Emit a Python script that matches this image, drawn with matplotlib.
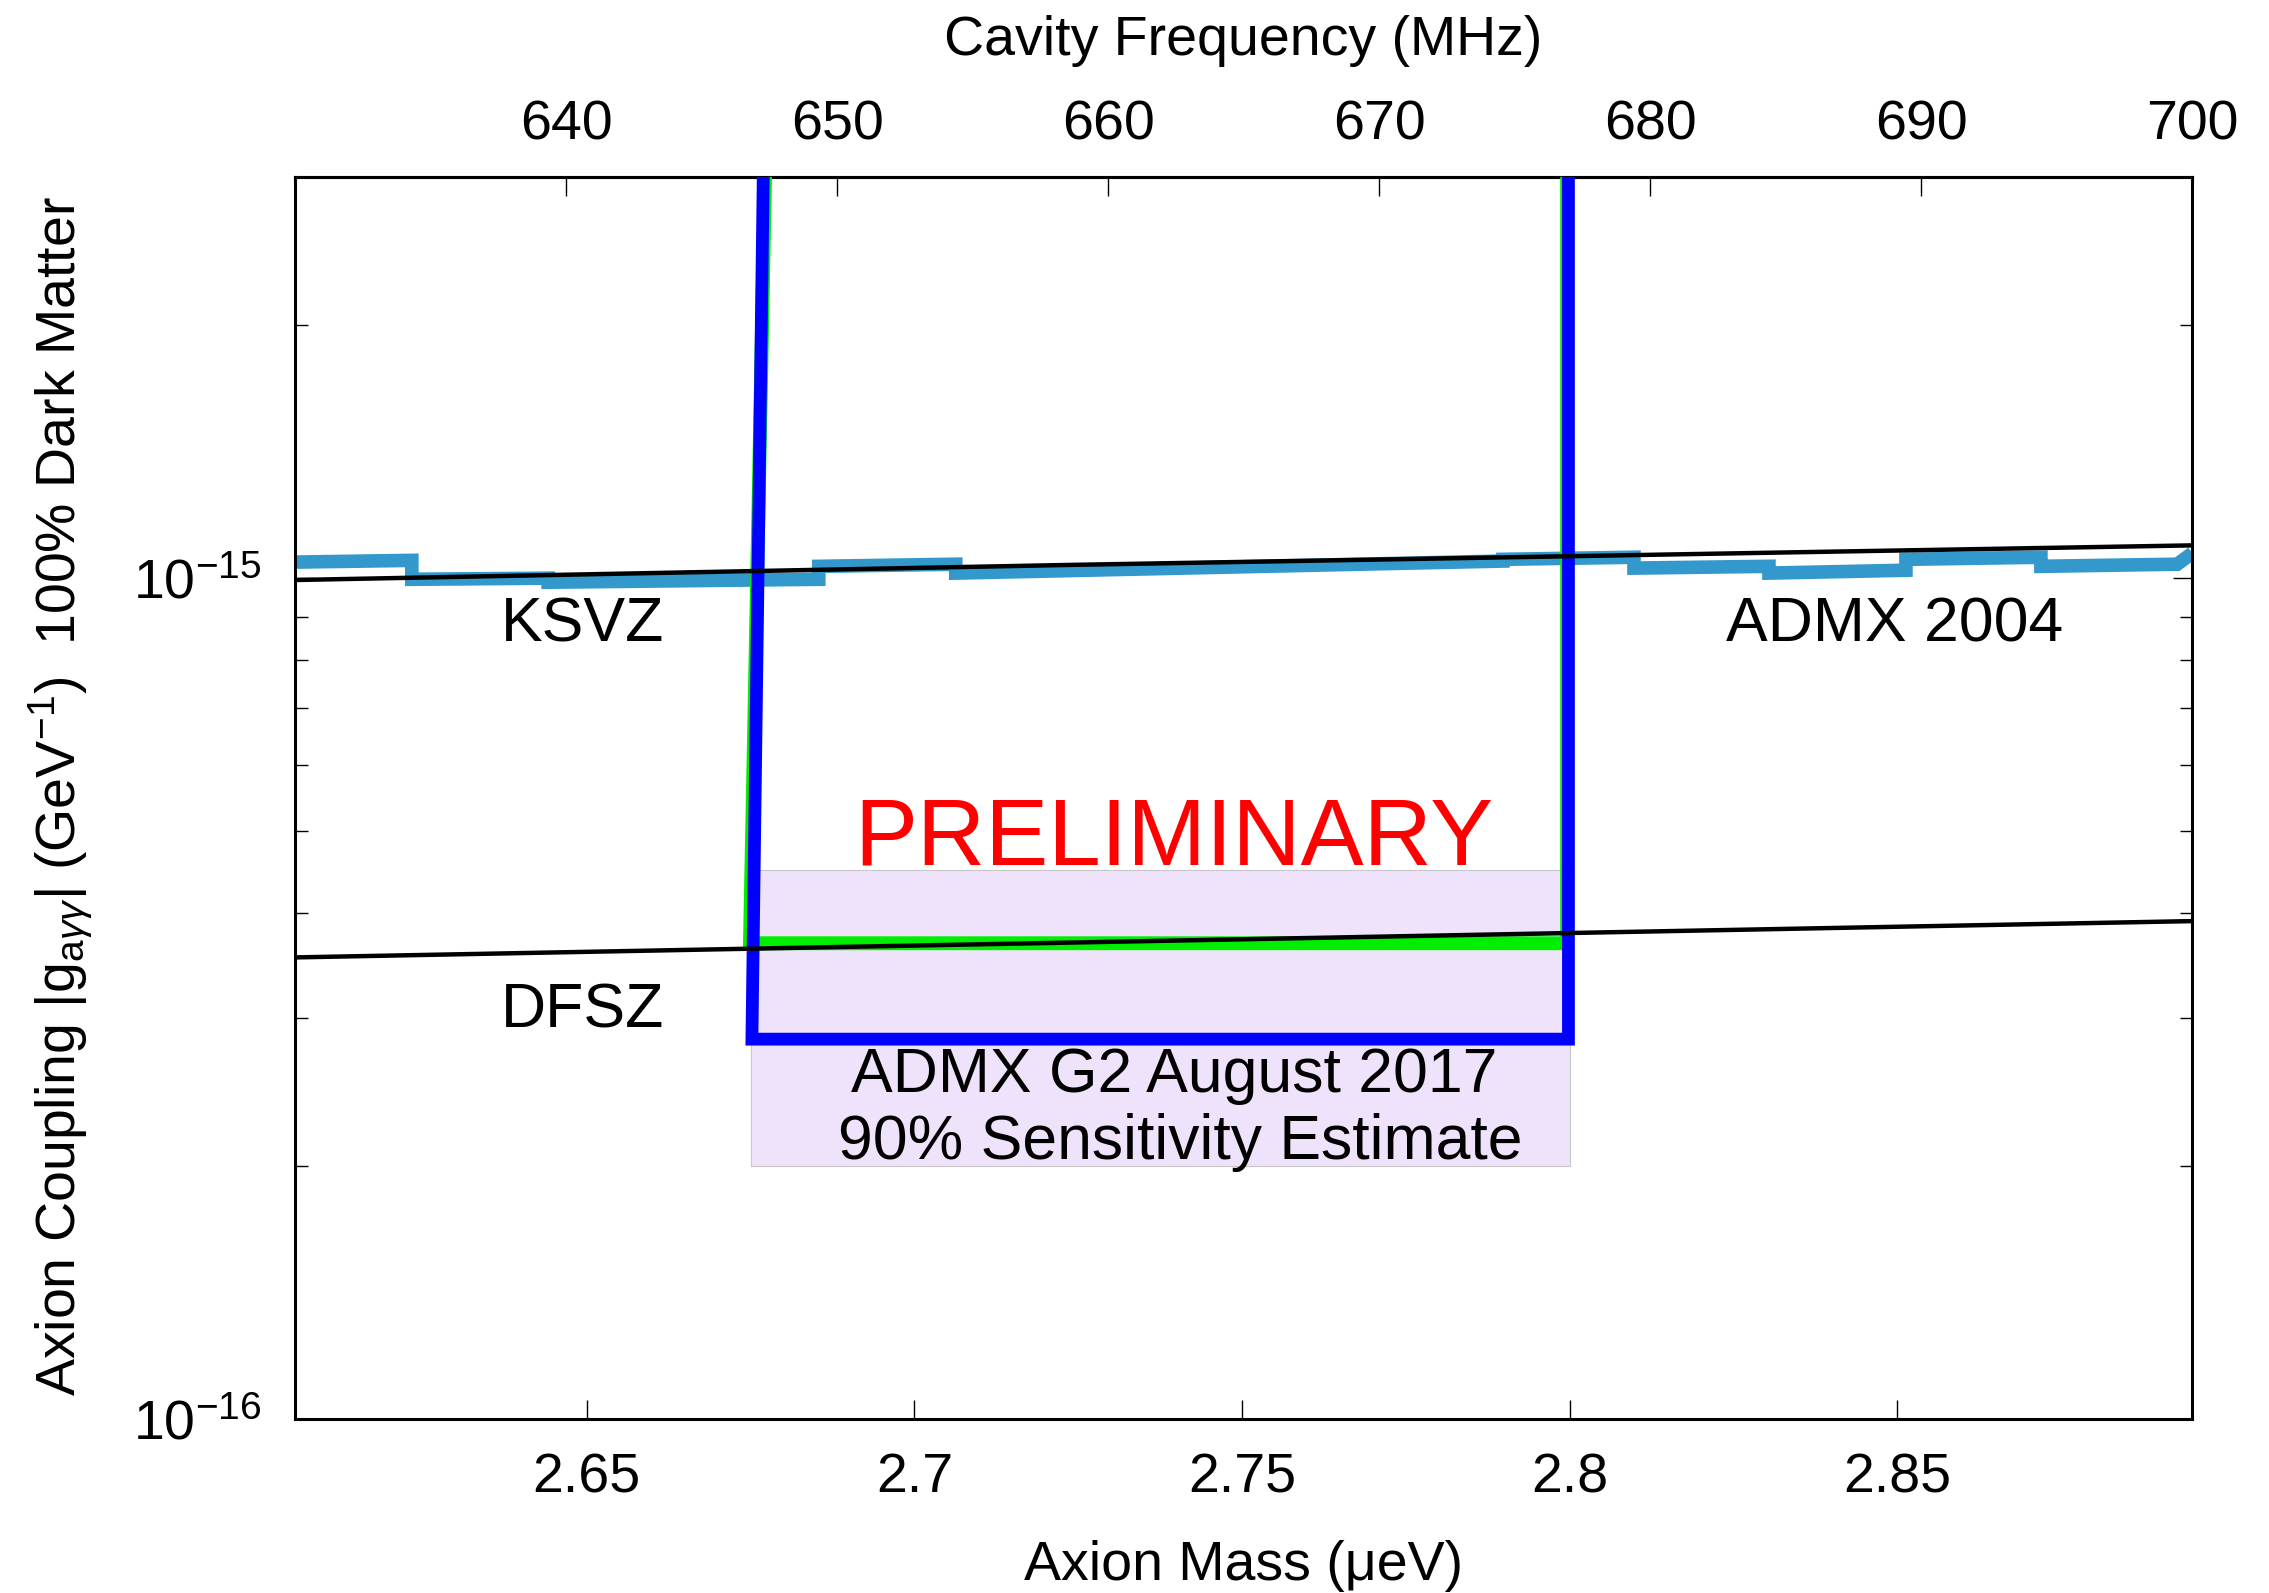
import matplotlib
matplotlib.use("Agg")
import matplotlib.pyplot as plt
from matplotlib.ticker import FixedLocator, FixedFormatter, NullFormatter

plt.rcParams['font.family'] = ['Liberation Sans', 'DejaVu Sans']
plt.rcParams['mathtext.fontset'] = 'custom'
plt.rcParams['mathtext.rm'] = 'Liberation Sans'
plt.rcParams['mathtext.it'] = 'Liberation Sans:italic'
plt.rcParams['mathtext.sf'] = 'Liberation Sans'

# ---------------- data ----------------
MHZ_PER_UEV = 241.799
mass_range = [630 / MHZ_PER_UEV, 700 / MHZ_PER_UEV]
g_range = [1e-16, 3e-15]

ksvz_mass = [2.6055, 2.7238, 2.8950]
ksvz_g = [0.995e-15, 1.037e-15, 1.094e-15]

dfsz_mass = [2.6055, 2.8950]
dfsz_g = [3.54e-16, 3.91e-16]

admx2004_mass = [2.6055, 2.6233, 2.6233, 2.6441, 2.6441, 2.6854, 2.6854, 2.7063,
                 2.7063, 2.7898, 2.7898, 2.8098, 2.8098, 2.8304, 2.8304, 2.8513,
                 2.8513, 2.8719, 2.8719, 2.8927, 2.8950]
admx2004_g = [1.045e-15, 1.050e-15, 0.997e-15, 1.000e-15, 0.989e-15, 0.997e-15,
              1.033e-15, 1.039e-15, 1.014e-15, 1.048e-15, 1.053e-15, 1.059e-15,
              1.028e-15, 1.033e-15, 1.014e-15, 1.022e-15, 1.053e-15, 1.059e-15,
              1.033e-15, 1.039e-15, 1.071e-15]

g2_mass = [2.6770, 2.6752, 2.7998, 2.7998]
g2_g = [3.3e-15, 2.83e-16, 2.83e-16, 3.3e-15]

green_mass = [2.6773, 2.6749, 2.7996, 2.7996]
green_g = [3.3e-15, 3.68e-16, 3.68e-16, 3.3e-15]

band_mass = [2.6751, 2.8001]
band_lo = [2.0e-16, 2.0e-16]
band_hi = [4.50e-16, 4.50e-16]

mass_ticks = [2.65, 2.7, 2.75, 2.8, 2.85]
mass_ticklabels = ['2.65', '2.7', '2.75', '2.8', '2.85']
freq_ticks = [640, 650, 660, 670, 680, 690, 700]
g_major = [1e-16, 1e-15]
g_major_labels = ['10$^{-16}$', '10$^{-15}$']
g_minor = [2e-16, 3e-16, 4e-16, 5e-16, 6e-16, 7e-16, 8e-16, 9e-16, 2e-15]

# ---------------- figure ----------------
fig = plt.figure(figsize=(22.69, 15.93), dpi=100)
ax = fig.add_axes([0.1300, 0.1092, 0.8361, 0.7797])
ax.set_yscale('log')
ax.set_xlim(mass_range)
ax.set_ylim(g_range)

ax.fill_between(band_mass, band_lo, band_hi, facecolor='#efe3fb',
                edgecolor='#c8c8c8', linewidth=0.8, zorder=1)
ax.plot(admx2004_mass, admx2004_g, color='#3399cc', lw=9.8,
        solid_joinstyle='miter', solid_capstyle='butt', zorder=2)
ax.plot(green_mass, green_g, color='#00ee00', lw=10.0,
        solid_joinstyle='miter', zorder=3)
ax.plot(g2_mass, g2_g, color='#0000ff', lw=9.2,
        solid_joinstyle='miter', zorder=4)
ax.plot(ksvz_mass, ksvz_g, color='black', lw=3.2, zorder=5)
ax.plot(dfsz_mass, dfsz_g, color='black', lw=3.2, zorder=5)

tfs = 45
ax.text(2.6494, 0.841e-15, 'KSVZ', fontsize=tfs, ha='center', va='baseline', zorder=6)
ax.text(2.6494, 2.92e-16, 'DFSZ', fontsize=tfs, ha='center', va='baseline', zorder=6)
ax.text(2.8495, 0.841e-15, 'ADMX 2004', fontsize=tfs, ha='center', va='baseline', zorder=6)
ax.text(2.7396, 4.57e-16, 'PRELIMINARY', fontsize=68, color='#ff0000',
        ha='center', va='baseline', zorder=6)
ax.text(2.7396, 2.45e-16, 'ADMX G2 August 2017', fontsize=tfs,
        ha='center', va='baseline', zorder=6)
ax.text(2.7406, 2.04e-16, '90% Sensitivity Estimate', fontsize=tfs,
        ha='center', va='baseline', zorder=6)

# ticks
ax.xaxis.set_major_locator(FixedLocator(mass_ticks))
ax.xaxis.set_major_formatter(FixedFormatter(mass_ticklabels))
ax.xaxis.set_minor_locator(FixedLocator([]))
ax.yaxis.set_major_locator(FixedLocator(g_major))
ax.yaxis.set_major_formatter(FixedFormatter(g_major_labels))
ax.yaxis.set_minor_locator(FixedLocator(g_minor))
ax.yaxis.set_minor_formatter(NullFormatter())

ax.tick_params(axis='x', which='major', direction='in', length=14, width=1.0,
               labelsize=40, pad=24, top=False, bottom=True)
ax.tick_params(axis='y', which='both', direction='in', left=True, right=True,
               labelsize=40, pad=24)
ax.tick_params(axis='y', which='major', length=14, width=1.0)
ax.tick_params(axis='y', which='minor', length=9, width=1.0)

for sp in ax.spines.values():
    sp.set_linewidth(2.2)

secax = ax.secondary_xaxis('top', functions=(lambda m: m * MHZ_PER_UEV,
                                              lambda f: f / MHZ_PER_UEV))
secax.set_xticks(freq_ticks)
secax.set_xticklabels([str(f) for f in freq_ticks])
secax.tick_params(axis='x', direction='in', length=14, width=1.0, labelsize=40, pad=18)
secax.spines['top'].set_linewidth(2.2)

ax.set_xlabel('Axion Mass (\u03bceV)', fontsize=40)
ax.xaxis.label.set_va('baseline')
ax.xaxis.set_label_coords(0.5, -0.1296)

ax.set_ylabel('Axion Coupling |g$_{\\mathrm{a}\\gamma\\gamma}$| (GeV$^{-1}$)  100% Dark Matter',
              fontsize=40)
ax.yaxis.label.set_va('center')
ax.yaxis.set_label_coords(-0.1234, 0.5016)

secax.set_xlabel('Cavity Frequency (MHz)', fontsize=40)
secax.xaxis.label.set_va('baseline')
secax.xaxis.set_label_coords(0.5, 1.0982, transform=ax.transAxes)

fig.savefig('out.png', dpi=100)
